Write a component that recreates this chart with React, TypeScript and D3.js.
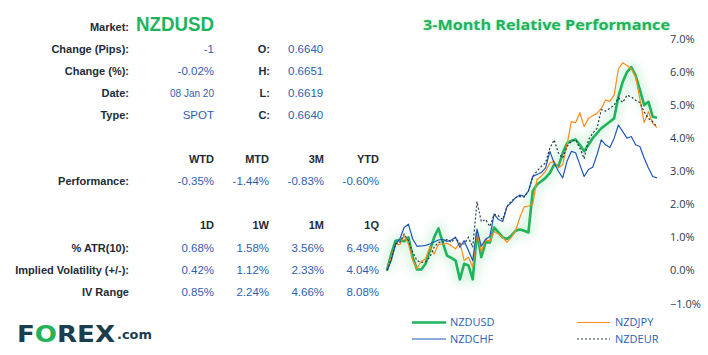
import React from "react";
import * as d3 from "d3";

const nzdusd = [0.0, 0.5, 0.9, 0.92, 0.88, 1.0, 0.4, 0.03, 0.03, 0.2, 0.6, 1.0, 1.27, 0.85, 0.45, 0.38, 0.3, -0.27, 0.2, 0.15, -0.27, 1.15, 0.4, 0.85, 0.85, 1.3, 1.15, 1.0, 0.95, 1.05, 1.2, 1.24, 1.2, 1.15, 2.4, 2.6, 2.7, 2.8, 2.95, 3.2, 3.15, 3.55, 3.85, 3.92, 3.96, 3.8, 3.6, 3.8, 4.0, 4.15, 4.3, 4.4, 4.5, 4.6, 5.26, 5.7, 6.0, 6.15, 5.9, 5.47, 5.0, 5.1, 4.65, 4.62];
const nzdjpy = [0.0, 0.4, 0.8, 0.78, 1.05, 0.8, 0.3, 0.05, 0.28, 0.35, 0.72, 0.5, 0.79, 0.8, 0.82, 0.75, 0.65, 0.85, 0.3, 0.4, 0.1, 1.2, 0.57, 0.94, 0.88, 1.18, 1.1, 1.0, 0.85, 1.0, 1.2, 1.6, 1.92, 1.95, 2.0, 2.75, 2.85, 3.0, 3.25, 3.3, 3.1, 3.2, 3.8, 4.5, 4.47, 4.77, 4.35, 4.6, 4.68, 4.75, 4.9, 5.15, 5.12, 5.3, 6.1, 6.28, 6.2, 6.1, 5.85, 5.2, 4.47, 4.8, 4.45, 4.32];
const nzdchf = [0.0, 0.3, 0.8, 0.95, 1.3, 1.4, 0.95, 0.73, 0.74, 0.76, 0.8, 0.86, 0.92, 0.94, 0.88, 0.92, 1.0, 0.7, 0.9, 0.6, 0.3, 1.25, 0.73, 0.94, 1.03, 1.7, 1.54, 1.48, 1.93, 2.05, 2.2, 2.28, 2.24, 2.4, 2.84, 2.9, 2.96, 3.1, 3.6, 3.25, 3.0, 2.8, 3.3, 3.6, 3.56, 3.2, 2.84, 3.05, 3.12, 3.5, 3.95, 3.8, 3.72, 4.0, 4.4, 4.2, 4.0, 4.05, 3.8, 3.75, 3.4, 3.1, 2.84, 2.8];
const nzdeur = [0.0, 0.35, 0.8, 0.85, 1.1, 0.9, 0.55, 0.3, 0.24, 0.26, 0.4, 0.7, 0.85, 0.85, 0.94, 0.85, 1.0, 0.8, 0.8, 1.0, 0.7, 2.08, 1.48, 1.54, 1.33, 1.7, 1.65, 1.54, 1.93, 2.1, 2.2, 2.24, 2.22, 2.4, 2.84, 3.0, 3.15, 3.25, 3.7, 3.95, 3.55, 3.4, 3.75, 3.9, 3.95, 3.7, 3.38, 3.95, 4.15, 4.3, 4.86, 4.82, 4.9, 5.0, 5.22, 5.08, 5.3, 5.25, 5.15, 5.08, 4.8, 4.6, 4.5, 4.35];

const yTicks = [-1, 0, 1, 2, 3, 4, 5, 6, 7];

const infoLabels = ["Change (Pips):", "Change (%):", "Date:", "Type:"];
const infoValues = ["-1", "-0.02%", "08 Jan 20", "SPOT"];
const ohlcLabels = ["O:", "H:", "L:", "C:"];
const ohlcValues = ["0.6640", "0.6651", "0.6619", "0.6640"];

const perfHeaders = ["WTD", "MTD", "3M", "YTD"];
const perfValues = ["-0.35%", "-1.44%", "-0.83%", "-0.60%"];

const volHeaders = ["1D", "1W", "1M", "1Q"];
const volRowLabels = ["% ATR(10):", "Implied Volatility (+/-):", "IV Range"];
const volRows = [
  ["0.68%", "1.58%", "3.56%", "6.49%"],
  ["0.42%", "1.12%", "2.33%", "4.04%"],
  ["0.85%", "2.24%", "4.66%", "8.08%"],
];

const GREEN = "#1fb35b";
const ORANGE = "#ff8c1a";
const BLUE = "#2158b8";
const DARK = "#2a3b4c";
const LABEL = "#1e2b39";
const VALUE = "#2d5fb5";

export default function App() {
  const x = d3.scaleLinear().domain([0, nzdusd.length - 1]).range([387, 657]);
  const y = d3.scaleLinear().domain([-1, 7]).range([303.5, 39]);
  const line = d3
    .line<number>()
    .x((_, i) => x(i))
    .y((d) => y(d));

  const font = "'Liberation Sans', Arial, sans-serif";
  const colX = [214, 269, 324, 379];

  return (
    <svg
      width={708}
      height={355}
      style={{ position: "absolute", left: 0, top: 0, background: "#fff" }}
      fontFamily={font}
    >
      <defs>
        <filter id="glow" x="-20%" y="-20%" width="140%" height="140%">
          <feGaussianBlur stdDeviation="5" />
        </filter>
        <filter id="tglow" x="-10%" y="-50%" width="120%" height="200%">
          <feGaussianBlur stdDeviation="1.5" />
        </filter>
      </defs>

      {/* Info table */}
      <text x={129} y={31} textAnchor="end" fontSize={11} fontWeight="bold" fill={LABEL}>
        Market:
      </text>
      <text x={136} y={31} fontSize={21} fontWeight="bold" fill={GREEN} textLength={78} lengthAdjust="spacingAndGlyphs">
        NZDUSD
      </text>
      {infoLabels.map((l, i) => (
        <g key={l}>
          <text x={129} y={53 + i * 22} textAnchor="end" fontSize={11} fontWeight="bold" fill={LABEL}>
            {l}
          </text>
          <text x={214} y={53 + i * 22} textAnchor="end" fontSize={i === 2 ? 10 : 11.5} fill={VALUE}>
            {infoValues[i]}
          </text>
          <text x={270} y={53 + i * 22} textAnchor="end" fontSize={11} fontWeight="bold" fill={LABEL}>
            {ohlcLabels[i]}
          </text>
          <text x={288} y={53 + i * 22} fontSize={11.5} fill={VALUE}>
            {ohlcValues[i]}
          </text>
        </g>
      ))}

      {perfHeaders.map((h, i) => (
        <text key={h} x={colX[i]} y={163} textAnchor="end" fontSize={11} fontWeight="bold" fill={LABEL}>
          {h}
        </text>
      ))}
      <text x={129} y={185} textAnchor="end" fontSize={11} fontWeight="bold" fill={LABEL}>
        Performance:
      </text>
      {perfValues.map((v, i) => (
        <text key={i} x={colX[i]} y={185} textAnchor="end" fontSize={11.5} fill={VALUE}>
          {v}
        </text>
      ))}

      {volHeaders.map((h, i) => (
        <text key={h} x={colX[i]} y={229} textAnchor="end" fontSize={11} fontWeight="bold" fill={LABEL}>
          {h}
        </text>
      ))}
      {volRowLabels.map((l, r) => (
        <g key={l}>
          <text x={129} y={252 + r * 22} textAnchor="end" fontSize={11} fontWeight="bold" fill={LABEL}>
            {l}
          </text>
          {volRows[r].map((v, i) => (
            <text key={i} x={colX[i]} y={252 + r * 22} textAnchor="end" fontSize={11.5} fill={VALUE}>
              {v}
            </text>
          ))}
        </g>
      ))}

      {/* Logo */}
      <text x={17} y={342} fontSize={23} fontWeight="900" fontFamily="'DejaVu Sans', sans-serif" fill="#1c3d4e" textLength={98} lengthAdjust="spacingAndGlyphs">
        F<tspan fill={GREEN}>O</tspan>REX
      </text>
      <text x={117} y={339} fontSize={13} fontWeight="bold" fontFamily="'DejaVu Sans', sans-serif" fill="#1c3d4e" textLength={35} lengthAdjust="spacingAndGlyphs">
        .com
      </text>

      {/* Chart title */}
      <text x={423} y={30} fontSize={15} fontWeight="bold" fontFamily="'Open Sans', sans-serif" fill="#a8e6bd" filter="url(#tglow)" textLength={247} lengthAdjust="spacingAndGlyphs">
        3-Month Relative Performance
      </text>
      <text x={423} y={30} fontSize={15} fontWeight="bold" fontFamily="'Open Sans', sans-serif" fill={GREEN} textLength={247} lengthAdjust="spacingAndGlyphs">
        3-Month Relative Performance
      </text>

      {/* Y axis labels */}
      {yTicks.map((t) => (
        <text key={t} x={670} y={y(t) + 4} fontSize={11} fontFamily="'Open Sans', sans-serif" fill={DARK}>
          {d3.format(".1f")(t) + "%"}
        </text>
      ))}

      {/* Lines */}
      <path d={line(nzdusd) || ""} fill="none" stroke="#9fe3b6" strokeWidth={12} opacity={0.35} strokeLinejoin="round" filter="url(#glow)" />
      <path d={line(nzdusd) || ""} fill="none" stroke={GREEN} strokeWidth={2.6} strokeLinejoin="round" />
      <path d={line(nzdjpy) || ""} fill="none" stroke={ORANGE} strokeWidth={1.2} strokeLinejoin="round" />
      <path d={line(nzdchf) || ""} fill="none" stroke={BLUE} strokeWidth={1.2} strokeLinejoin="round" />
      <path d={line(nzdeur) || ""} fill="none" stroke={DARK} strokeWidth={1.2} strokeDasharray="2,2" />

      {/* Legend */}
      <line x1={412} x2={446} y1={322.5} y2={322.5} stroke={GREEN} strokeWidth={2.6} />
      <text x={450} y={326} fontSize={11} fontFamily="'Open Sans', sans-serif" fill={VALUE}>NZDUSD</text>
      <line x1={577} x2={610} y1={322.5} y2={322.5} stroke={ORANGE} strokeWidth={1.2} />
      <text x={615} y={326} fontSize={11} fontFamily="'Open Sans', sans-serif" fill={VALUE}>NZDJPY</text>
      <line x1={412} x2={446} y1={339} y2={339} stroke={BLUE} strokeWidth={1.2} />
      <text x={450} y={342.5} fontSize={11} fontFamily="'Open Sans', sans-serif" fill={VALUE}>NZDCHF</text>
      <line x1={577} x2={610} y1={339} y2={339} stroke={DARK} strokeWidth={1.2} strokeDasharray="2,2" />
      <text x={615} y={342.5} fontSize={11} fontFamily="'Open Sans', sans-serif" fill={VALUE}>NZDEUR</text>
    </svg>
  );
}
